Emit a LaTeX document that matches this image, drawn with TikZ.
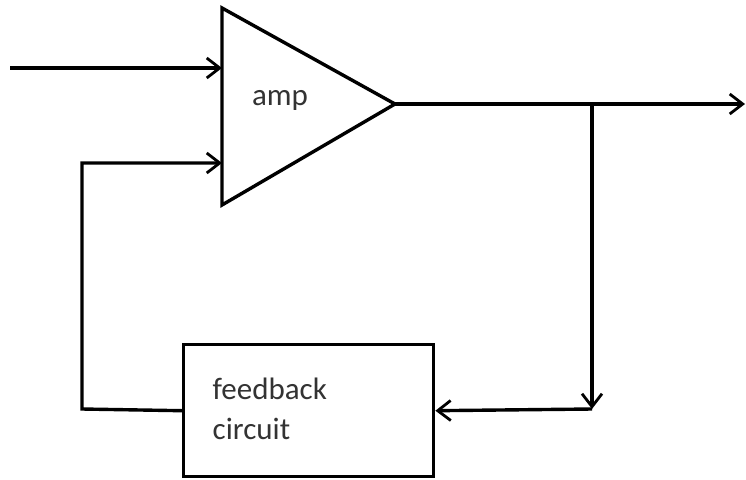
\documentclass[tikz,border=0pt]{standalone}
\usepackage{fontspec}
\setmainfont{Carlito}
\usetikzlibrary{arrows.meta}
\begin{document}
\begin{tikzpicture}[x=1pt,y=-1pt,line width=3.4pt,
  conn/.style={line width=3.4pt,-{Straight Barb[length=13pt,width=20pt,line width=2.8pt]}},
  lbl/.style={text=black!80, font=\fontsize{31}{40}\selectfont, inner sep=0pt},
  block/.style={draw, line width=3.4pt, minimum width=250pt, minimum height=132pt, inner sep=0pt}]
\useasboundingbox[fill=white] (0,0) rectangle (746,479);
% amplifier triangle
\coordinate (tl) at (222,8);
\coordinate (bl) at (222,205);
\coordinate (apex) at (395,104);
\draw[line join=miter] (tl) -- (apex) -- (bl) -- cycle;
\node[lbl] (amp) at (280,100) {amp};
% feedback block
\node[block, anchor=north west] (fb) at (182,343) {};
\node[lbl, align=left, anchor=north west] (fbtext) at (211,376) {feedback\\circuit};
% connectors
\coordinate (in) at (10,68);
\coordinate (a1) at (222,68);
\coordinate (c1) at (82,409);
\coordinate (a2) at (222,163);
\coordinate (out) at (745,104);
\coordinate (br) at (592,104);
\coordinate (brd) at (592,409);
\draw[conn] (in) -- (a1);
\draw[conn] (fb.west) -- (c1) |- (a2);
\draw (apex) -- (br);
\draw[conn] (br) -- (out);
\draw[conn] (br) -- (brd);
\draw[conn] (brd) -- (fb.east);
\end{tikzpicture}
\end{document}
